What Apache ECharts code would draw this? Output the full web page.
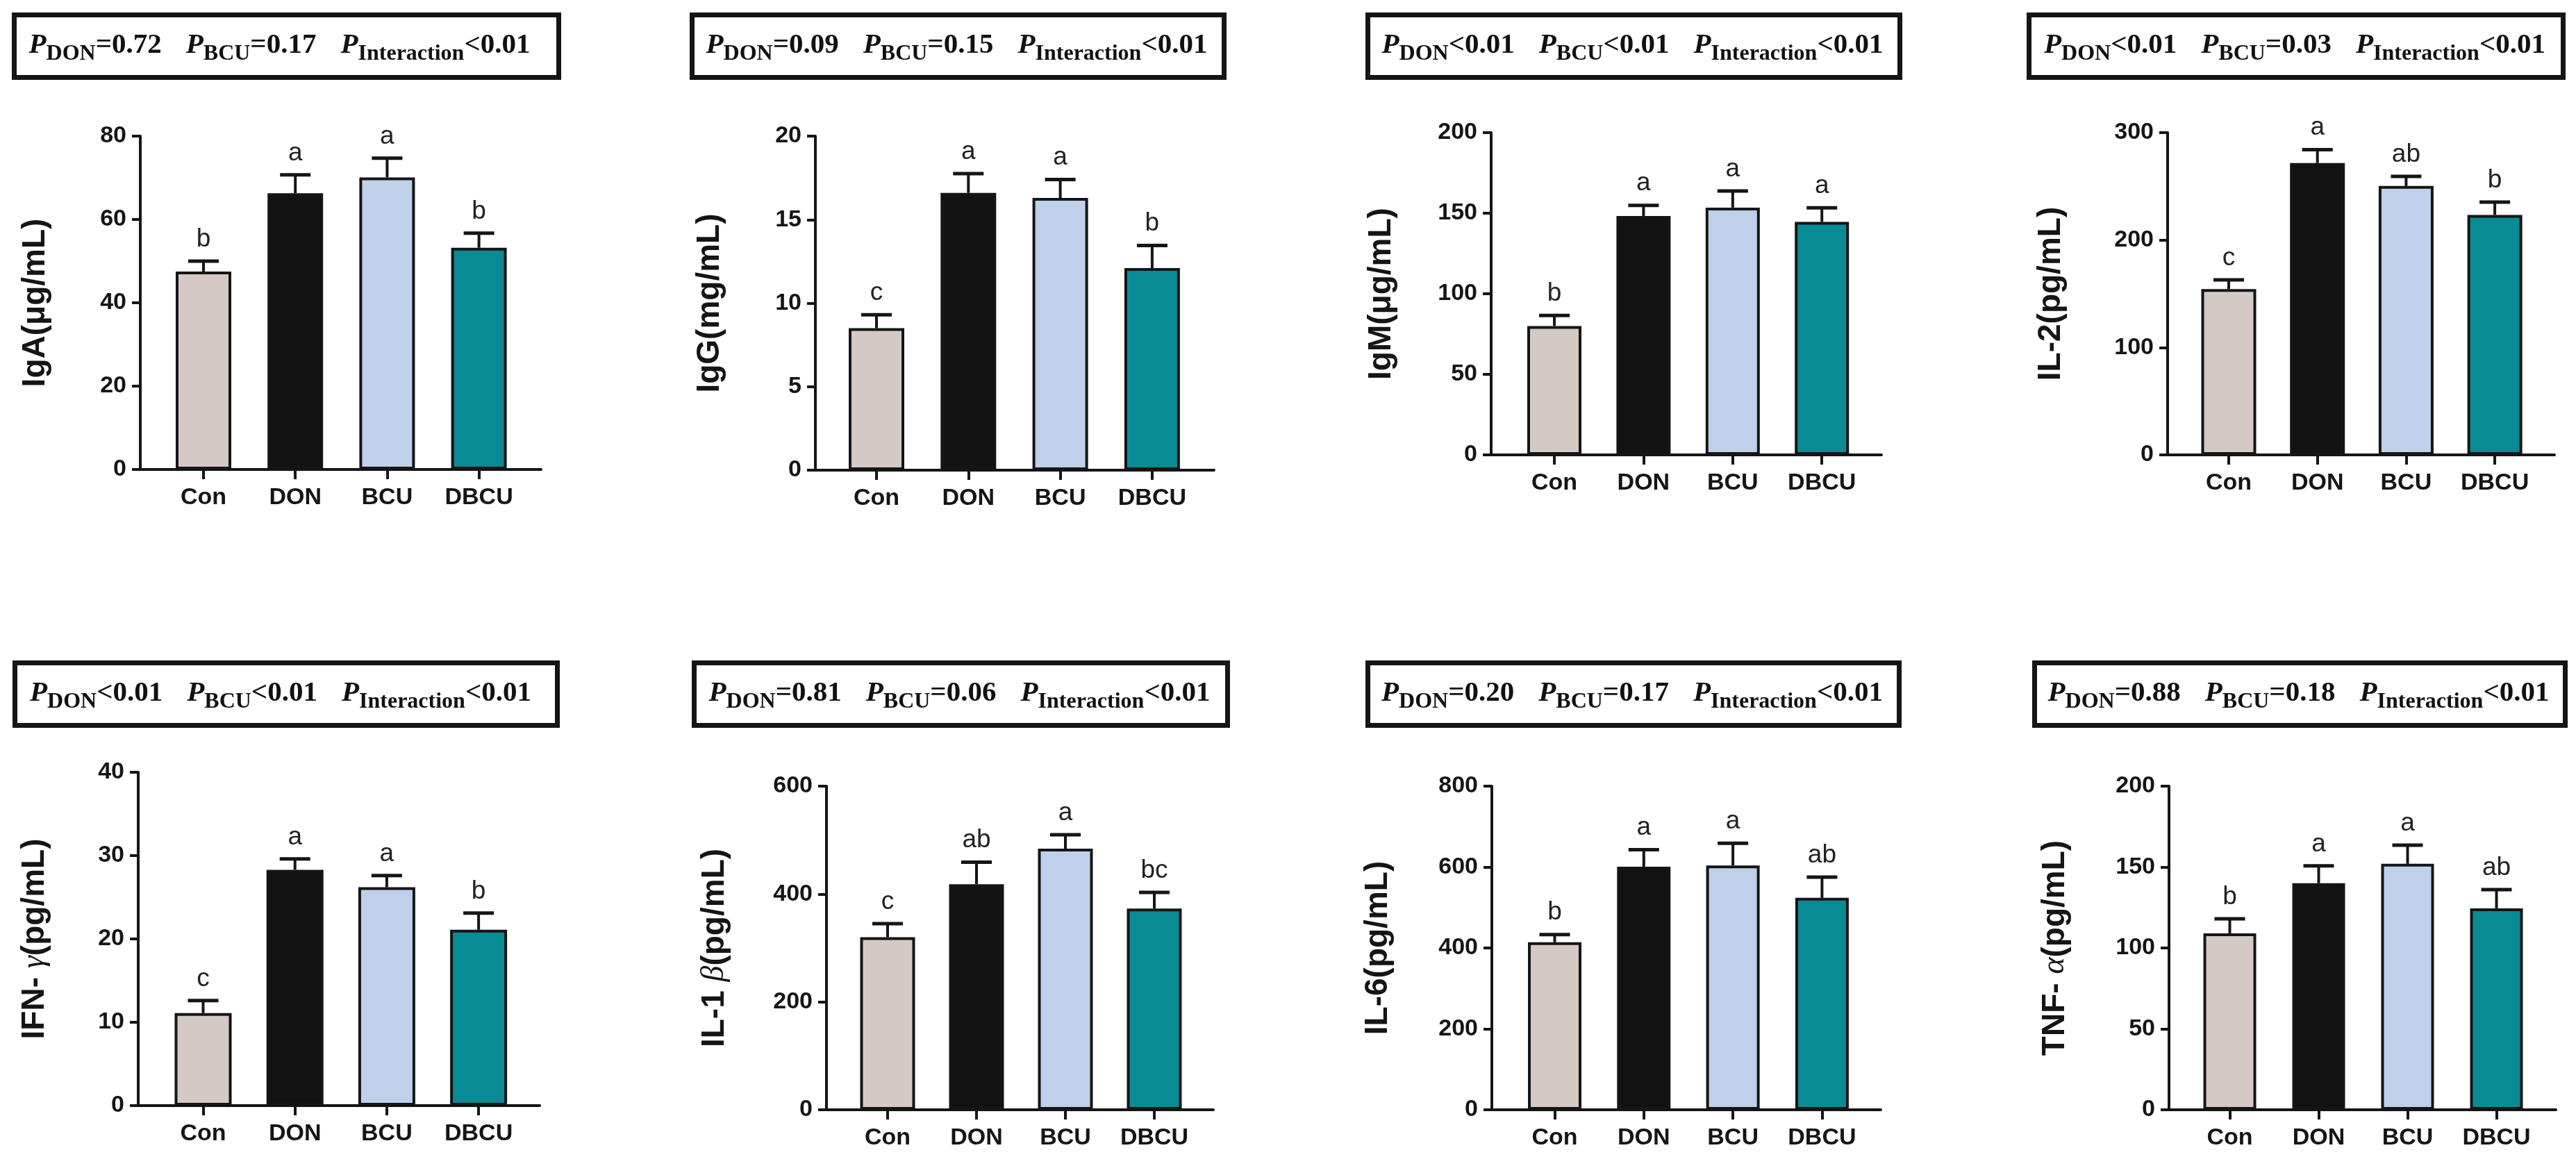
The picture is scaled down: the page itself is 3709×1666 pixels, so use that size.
<!DOCTYPE html>
<html>
<head>
<meta charset="utf-8">
<title>Serum immunoglobulins and cytokines</title>
<script src="https://cdn.jsdelivr.net/npm/echarts@6/dist/echarts.min.js"></script>
<style>
    html, body { margin: 0; padding: 0; background: #fff; }
    #chart { width: 3709px; height: 1666px; }
</style>
</head>
<body>
<div id="chart"></div>
<script>
// groups and colours
var categories = ['Con', 'DON', 'BCU', 'DBCU'];
var barColors = ['#d4c9c5', '#121212', '#bfd1ea', '#088b94'];

// values (mean, SEM, letters)
var igaMean = [47.5, 66.3, 70.1, 53.2];
var igaSem = [2.5, 4.4, 4.6, 3.5];
var igaSig = ['b', 'a', 'a', 'b'];

var iggMean = [8.5, 16.6, 16.3, 12.1];
var iggSem = [0.8, 1.15, 1.1, 1.35];
var iggSig = ['c', 'a', 'a', 'b'];

var igmMean = [80, 148.3, 153.5, 144.6];
var igmSem = [6.5, 6.6, 10.3, 8.7];
var igmSig = ['b', 'a', 'a', 'a'];

var il2Mean = [154.4, 271.7, 250.3, 223.4];
var il2Sem = [8.6, 12.5, 8.9, 12];
var il2Sig = ['c', 'a', 'ab', 'b'];

var ifnMean = [11.1, 28.3, 26.2, 21.1];
var ifnSem = [1.5, 1.3, 1.4, 2.0];
var ifnSig = ['c', 'a', 'a', 'b'];

var il1bMean = [320, 418, 484, 373];
var il1bSem = [25, 41, 26, 30];
var il1bSig = ['c', 'ab', 'a', 'bc'];

var il6Mean = [414, 601, 604, 524];
var il6Sem = [19, 42, 55, 51];
var il6Sig = ['b', 'a', 'a', 'ab'];

var tnfMean = [109, 140, 152, 124.5];
var tnfSem = [9, 10.7, 11.5, 11.6];
var tnfSig = ['b', 'a', 'a', 'ab'];

// y axis ranges
var axisMax = [80, 20, 200, 300, 40, 600, 800, 200];
var axisStep = [20, 5, 50, 100, 10, 200, 200, 50];

// axis titles
var axisNames = [
    'IgA(μg/mL)', 'IgG(mg/mL)', 'IgM(μg/mL)', 'IL-2(pg/mL)',
    'IFN- {g|γ}(pg/mL)', 'IL-1 {g|β}(pg/mL)', 'IL-6(pg/mL)', 'TNF- {g|α}(pg/mL)'
];

// two-way ANOVA p values: DON, BCU, interaction
var pDon = ['=0.72', '=0.09', '<0.01', '<0.01', '<0.01', '=0.81', '=0.20', '=0.88'];
var pBcu = ['=0.17', '=0.15', '<0.01', '=0.03', '<0.01', '=0.06', '=0.17', '=0.18'];
var pInt = ['<0.01', '<0.01', '<0.01', '<0.01', '<0.01', '<0.01', '<0.01', '<0.01'];

var means = [igaMean, iggMean, igmMean, il2Mean, ifnMean, il1bMean, il6Mean, tnfMean];
var sems = [igaSem, iggSem, igmSem, il2Sem, ifnSem, il1bSem, il6Sem, tnfSem];
var sigs = [igaSig, iggSig, igmSig, il2Sig, ifnSig, il1bSig, il6Sig, tnfSig];

// panel layout in pixels
var layout = [
    { left: 202, top: 196, w: 577, h: 480, c0: 293, sp: 132.2, bw: 80, gap: 128, box: [17, 18, 791, 97], tx: -10 },
    { left: 1174, top: 196, w: 574, h: 481, c0: 1262, sp: 132.3, bw: 80, gap: 129, box: [993, 18, 773, 97], tx: -2 },
    { left: 2147, top: 191, w: 562, h: 464, c0: 2238, sp: 128.4, bw: 78, gap: 135, box: [1966, 18, 773, 97], tx: -2 },
    { left: 3121, top: 191, w: 557, h: 464, c0: 3209, sp: 127.7, bw: 79, gap: 145, box: [2918, 18, 776, 97], tx: -2 },
    { left: 199, top: 1112, w: 578, h: 480, c0: 292.5, sp: 132.2, bw: 82, gap: 126, box: [18, 951, 788, 97], tx: -8 },
    { left: 1190, top: 1132, w: 557, h: 466, c0: 1278, sp: 128, bw: 79, gap: 138, box: [996, 951, 775, 97], tx: -2 },
    { left: 2148, top: 1132, w: 560, h: 466, c0: 2238.5, sp: 128.3, bw: 77, gap: 141, box: [1966, 951, 772, 97], tx: -2 },
    { left: 3123, top: 1132, w: 557, h: 466, c0: 3210.5, sp: 128, bw: 76, gap: 141, box: [2926, 951, 771, 97], tx: -2 }
];

var sans = 'Liberation Sans, Arial, sans-serif';
var serif = 'Liberation Serif, Times New Roman, serif';
var ink = '#151515';

var grids = [], xAxes = [], yAxes = [], series = [], graphics = [];

layout.forEach(function (L, i) {
    grids.push({ left: L.left, top: L.top, width: L.w, height: L.h, outerBoundsMode: 'none' });

    xAxes.push({
        gridIndex: i,
        type: 'value',
        min: (L.left - L.c0) / L.sp,
        max: (L.left + L.w - L.c0) / L.sp,
        axisLine: { show: true, onZero: false, lineStyle: { color: ink, width: 4 } },
        axisTick: { show: true, customValues: [0, 1, 2, 3], length: 14, lineStyle: { color: ink, width: 4 } },
        axisLabel: {
            show: true,
            customValues: [0, 1, 2, 3],
            formatter: function (v) { return categories[Math.round(v)]; },
            margin: 24,
            fontSize: 34,
            fontWeight: 'bold',
            fontFamily: sans,
            color: ink
        },
        splitLine: { show: false }
    });

    yAxes.push({
        gridIndex: i,
        type: 'value',
        min: 0,
        max: axisMax[i],
        interval: axisStep[i],
        name: axisNames[i],
        nameLocation: 'middle',
        nameGap: L.gap,
        nameTextStyle: {
            fontSize: 46, fontWeight: 'bold', fontFamily: sans, color: ink,
            rich: {
                g: { fontSize: 46, fontWeight: 'normal', fontStyle: 'italic', fontFamily: serif, color: ink }
            }
        },
        axisLine: { show: true, onZero: false, lineStyle: { color: ink, width: 4 } },
        axisTick: { show: true, length: 12, lineStyle: { color: ink, width: 4 } },
        axisLabel: { show: true, margin: 20, fontSize: 34, fontWeight: 'bold', fontFamily: sans, color: ink },
        splitLine: { show: false }
    });

    series.push({
        type: 'bar',
        xAxisIndex: i,
        yAxisIndex: i,
        barWidth: L.bw,
        silent: true,
        itemStyle: { borderColor: ink, borderWidth: 4 },
        data: means[i].map(function (v, k) {
            return { value: [k, v], itemStyle: { color: barColors[k] } };
        })
    });

    var letters = sigs[i];
    series.push({
        type: 'custom',
        xAxisIndex: i,
        yAxisIndex: i,
        silent: true,
        encode: { x: 0, y: 1 },
        data: means[i].map(function (v, k) { return [k, v, sems[i][k]]; }),
        renderItem: function (params, api) {
            var x = api.value(0), m = api.value(1), e = api.value(2);
            var base = api.coord([x, m]);
            var top = api.coord([x, m + e]);
            return {
                type: 'group',
                children: [
                    { type: 'line', shape: { x1: base[0], y1: base[1], x2: top[0], y2: top[1] },
                      style: { stroke: ink, lineWidth: 4 } },
                    { type: 'line', shape: { x1: top[0] - 22, y1: top[1], x2: top[0] + 22, y2: top[1] },
                      style: { stroke: ink, lineWidth: 5 } },
                    { type: 'text', x: top[0], y: top[1] - 13,
                      style: { text: letters[params.dataIndex], fontSize: 37, fontFamily: sans, fill: '#222',
                               textAlign: 'center', textVerticalAlign: 'bottom' } }
                ]
            };
        }
    });

    // p value box
    var b = L.box;
    graphics.push({
        type: 'rect',
        shape: { x: b[0] + 3.5, y: b[1] + 3.5, width: b[2] - 7, height: b[3] - 7 },
        style: { fill: '#fff', stroke: ink, lineWidth: 7 }
    });
    graphics.push({
        type: 'text',
        x: b[0] + b[2] / 2 + L.tx,
        y: b[1] + b[3] / 2 - 1,
        style: {
            text: '{p|P}{s|DON}{v|' + pDon[i] + '}{w| }{p|P}{s|BCU}{v|' + pBcu[i] + '}{w| }{p|P}{s|Interaction}{v|' + pInt[i] + '}',
            textAlign: 'center',
            textVerticalAlign: 'middle',
            align: 'center',
            verticalAlign: 'middle',
            rich: {
                p: { fontFamily: serif, fontStyle: 'italic', fontWeight: 'bold', fontSize: 41, fill: '#111', color: '#111' },
                s: { fontFamily: serif, fontWeight: 'bold', fontSize: 32, fill: '#111', color: '#111', padding: [25, 0, 0, 0] },
                v: { fontFamily: serif, fontWeight: 'bold', fontSize: 41, fill: '#111', color: '#111' },
                w: { fontFamily: serif, fontSize: 41, width: 35 }
            }
        }
    });
});

var chart = echarts.init(document.getElementById('chart'));
chart.setOption({
    animation: false,
    backgroundColor: '#fff',
    grid: grids,
    xAxis: xAxes,
    yAxis: yAxes,
    series: series,
    graphic: { elements: graphics }
});
window.onresize = chart.resize;
</script>
</body>
</html>
